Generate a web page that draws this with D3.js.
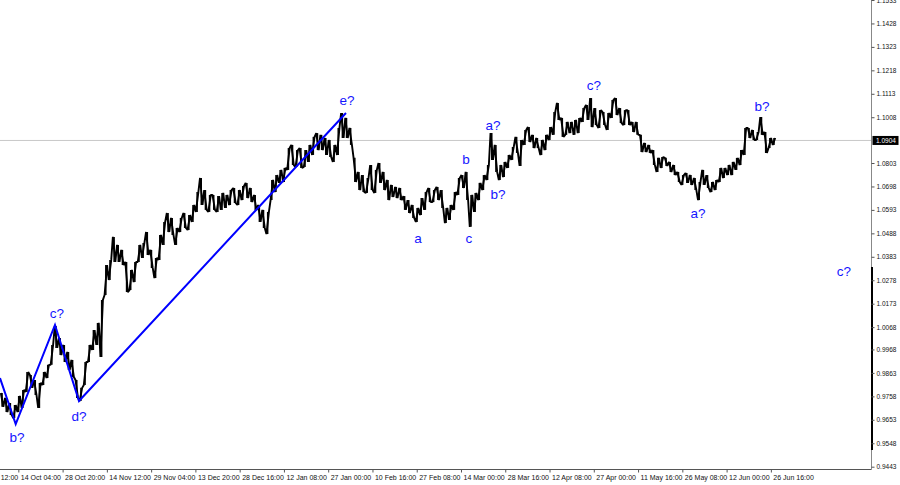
<!DOCTYPE html>
<html><head><meta charset="utf-8">
<script src="https://cdn.jsdelivr.net/npm/d3@7"></script>
<style>html,body{margin:0;padding:0;background:#fff;overflow:hidden}</style>
</head><body><svg id="c" width="900" height="485"></svg>
<script>
// daily high / low of EUR/USD H4 chart (each point = 6 H4 bars)
const highs = [0.9773,0.9751,0.9728,0.9719,0.9760,0.9787,0.9867,0.9854,0.9831,0.9818,
0.9867,0.9899,0.9988,1.0073,1.0019,0.9988,0.9957,0.9921,0.9831,0.9796,
0.9912,0.9988,1.0055,1.0087,1.0190,1.0346,1.0369,1.0472,1.0436,1.0414,
1.0360,1.0324,1.0360,1.0436,1.0445,1.0494,1.0414,1.0378,1.0481,1.0539,
1.0579,1.0557,1.0512,1.0557,1.0579,1.0570,1.0615,1.0673,1.0736,1.0682,
1.0660,1.0660,1.0655,1.0669,1.0660,1.0682,1.0691,1.0682,1.0700,1.0714,
1.0691,1.0660,1.0615,1.0593,1.0584,1.0727,1.0749,1.0772,1.0781,1.0870,
1.0884,1.0861,1.0870,1.0861,1.0884,1.0920,1.0937,1.0929,1.0915,1.0906,
1.0884,1.0960,1.1027,1.1005,1.0960,1.0826,1.0763,1.0749,1.0736,1.0794,
1.0772,1.0803,1.0763,1.0727,1.0705,1.0696,1.0691,1.0655,1.0637,1.0615,
1.0602,1.0646,1.0673,1.0691,1.0682,1.0696,1.0682,1.0602,1.0615,1.0673,
1.0736,1.0749,1.0763,1.0660,1.0669,1.0714,1.0749,1.0794,1.0937,1.0884,
1.0794,1.0808,1.0839,1.0875,1.0920,1.0906,1.0951,1.0964,1.0929,1.0915,
1.0906,1.0929,1.0964,1.1031,1.1072,1.1005,1.0987,1.0987,1.0996,1.1005,
1.1049,1.1063,1.1094,1.1049,1.1040,1.1031,1.1027,1.1085,1.1094,1.1049,
1.1040,1.1040,1.0987,1.0987,1.0929,1.0893,1.0884,1.0861,1.0826,1.0830,
1.0826,1.0808,1.0794,1.0763,1.0749,1.0758,1.0749,1.0736,1.0718,1.0772,
1.0749,1.0718,1.0727,1.0781,1.0781,1.0794,1.0808,1.0826,1.0861,1.0960,
1.0960,1.0951,1.0942,1.1009,1.0942,1.0915,1.0915];
const lows = [0.9711,0.9688,0.9675,0.9661,0.9688,0.9706,0.9778,0.9796,0.9764,0.9706,
0.9809,0.9840,0.9899,0.9975,0.9943,0.9912,0.9876,0.9845,0.9751,0.9737,
0.9809,0.9912,0.9966,0.9988,0.9934,1.0212,1.0279,1.0360,1.0360,1.0346,
1.0225,1.0234,1.0270,1.0360,1.0378,1.0391,1.0333,1.0288,1.0369,1.0436,
1.0494,1.0481,1.0436,1.0494,1.0512,1.0503,1.0539,1.0584,1.0615,1.0593,
1.0584,1.0593,1.0584,1.0593,1.0602,1.0615,1.0624,1.0615,1.0637,1.0646,
1.0628,1.0593,1.0539,1.0512,1.0485,1.0637,1.0673,1.0714,1.0718,1.0772,
1.0794,1.0785,1.0781,1.0785,1.0808,1.0839,1.0861,1.0861,1.0839,1.0830,
1.0808,1.0839,1.0915,1.0915,1.0884,1.0718,1.0682,1.0673,1.0669,1.0682,
1.0669,1.0714,1.0682,1.0637,1.0651,1.0646,1.0637,1.0593,1.0579,1.0557,
1.0539,1.0570,1.0593,1.0628,1.0628,1.0637,1.0602,1.0534,1.0548,1.0593,
1.0660,1.0691,1.0637,1.0517,1.0584,1.0637,1.0682,1.0727,1.0817,1.0763,
1.0727,1.0740,1.0781,1.0817,1.0848,1.0790,1.0884,1.0897,1.0870,1.0870,
1.0839,1.0861,1.0906,1.0929,1.0996,1.0920,1.0929,1.0937,1.0929,1.0937,
1.0987,1.0996,1.0964,1.0973,1.0960,1.0973,1.0951,1.1005,1.1018,1.0982,
1.0973,1.0973,1.0942,1.0929,1.0852,1.0852,1.0848,1.0794,1.0763,1.0781,
1.0790,1.0763,1.0749,1.0718,1.0705,1.0714,1.0705,1.0682,1.0637,1.0705,
1.0691,1.0673,1.0682,1.0718,1.0736,1.0749,1.0749,1.0772,1.0794,1.0839,
1.0915,1.0906,1.0906,1.0929,1.0848,1.0870,1.0884];
const barsPerPoint = 6;
const currentPrice = 1.0904;
const currentPriceLabel = "1.0904";

const priceTicks = [0.9443,0.9548,0.9653,0.9758,0.9863,0.9968,1.0068,1.0173,1.0278,1.0383,
1.0488,1.0593,1.0698,1.0803,1.1008,1.1113,1.1218,1.1323,1.1428,1.1533];
const dateLabels = ["29 Sep 12:00","14 Oct 04:00","28 Oct 20:00","14 Nov 12:00","29 Nov 04:00",
"13 Dec 20:00","28 Dec 16:00","12 Jan 08:00","27 Jan 00:00","10 Feb 16:00","27 Feb 08:00",
"14 Mar 00:00","28 Mar 16:00","12 Apr 08:00","27 Apr 00:00","11 May 16:00","26 May 08:00",
"12 Jun 00:00","26 Jun 16:00"];
const firstDateBar = -37.5, barsPerDateLabel = 64;

// wave count (blue)
const waveBars = [0, 22.7, 79.5, 114.2, 500.2];
const wavePrices = [0.9840, 0.9634, 1.0078, 0.9737, 1.1027];
const labelTexts = ["b?","c?","d?","e?","a","b","c","a?","b?","c?","a?","b?","c?"];
const labelBars = [24.6, 82.4, 114.2, 501.7, 604.3, 673.7, 678.0, 712.7, 720.0, 858.8, 1009.1, 1101.6, 1220.2];
const labelPrices = [0.9576,1.0131,0.9670,1.1081,1.0467,1.0817,1.0467,1.0973,1.0660,1.1152,1.0579,1.1058,1.0315];

const W = 900, H = 485, plotRight = 871.5, plotBottom = 469.5;
const x = d3.scaleLinear().domain([0, 1260]).range([0, plotRight]);
const y = d3.scaleLinear().domain([0.9443, 1.1533]).range([466.7, 0]);

const svg = d3.select("#c");
svg.append("rect").attr("width", W).attr("height", H).attr("fill", "#fff");
svg.append("defs").append("clipPath").attr("id", "clip")
  .append("rect").attr("x", 0).attr("y", 0).attr("width", plotRight).attr("height", plotBottom);

const plot = svg.append("g").attr("clip-path", "url(#clip)");

// current price line
plot.append("line").attr("x1", 0).attr("x2", plotRight)
  .attr("y1", y(currentPrice)).attr("y2", y(currentPrice))
  .attr("stroke", "#c8c8c8").attr("stroke-width", 1);

const pts = highs.map((h, i) => ({ b: i * barsPerPoint + 3, h, l: lows[i] }));
// jagged price path: each day drawn low->high or high->low following the direction
const half = barsPerPoint * 0.3;
const zig = [];
pts.forEach((d, i) => {
  const mid = (d.h + d.l) / 2;
  const nxt = i < pts.length - 1 ? (pts[i + 1].h + pts[i + 1].l) / 2 : mid;
  if (nxt >= mid) { zig.push([d.b - half, d.l]); zig.push([d.b + half, d.h]); }
  else { zig.push([d.b - half, d.h]); zig.push([d.b + half, d.l]); }
});
plot.append("path").datum(zig)
  .attr("d", d3.line().x(d => x(d[0])).y(d => y(d[1])))
  .attr("fill", "none").attr("stroke", "#000").attr("stroke-width", 1.9).attr("stroke-linejoin", "bevel");
plot.selectAll("line.bar").data(pts).enter().append("line").attr("class", "bar")
  .attr("x1", d => x(d.b)).attr("x2", d => x(d.b))
  .attr("y1", d => y(d.h)).attr("y2", d => y(d.l))
  .attr("stroke", "#000").attr("stroke-width", 1.5);

// wave lines
const waveLine = d3.line().x(d => x(d[0])).y(d => y(d[1]));
plot.append("path").datum(waveBars.map((b, i) => [b, wavePrices[i]]))
  .attr("d", waveLine).attr("fill", "none").attr("stroke", "#0000ff").attr("stroke-width", 2);

// labels
svg.selectAll("text.wl").data(labelTexts).enter().append("text").attr("class", "wl")
  .attr("x", (d, i) => x(labelBars[i])).attr("y", (d, i) => y(labelPrices[i]))
  .attr("text-anchor", "middle").attr("dominant-baseline", "central")
  .attr("font-family", "Arial, 'Liberation Sans', sans-serif").attr("font-size", 13.5)
  .attr("fill", "#1515ff").text(d => d);

// axes frame
svg.append("line").attr("x1", 0).attr("x2", plotRight).attr("y1", plotBottom).attr("y2", plotBottom)
  .attr("stroke", "#555").attr("stroke-width", 1);
svg.append("line").attr("x1", plotRight).attr("x2", plotRight).attr("y1", 0).attr("y2", plotBottom)
  .attr("stroke", "#888").attr("stroke-width", 1);
svg.append("line").attr("x1", plotRight + 0.5).attr("x2", plotRight + 0.5).attr("y1", 267).attr("y2", 450)
  .attr("stroke", "#000").attr("stroke-width", 2);

// right price axis
const yAxis = d3.axisRight(y).tickValues(priceTicks).tickSize(3).tickPadding(2)
  .tickFormat(d3.format(".4f"));
const ya = svg.append("g").attr("transform", `translate(${plotRight},0)`).call(yAxis);
ya.select(".domain").remove();
ya.selectAll("line").attr("stroke", "#555");
ya.selectAll("text").attr("font-family", "Arial, 'Liberation Sans', sans-serif")
  .attr("font-size", 6.5).attr("fill", "#111");

// current price tag
const cp = svg.append("g");
cp.append("rect").attr("x", plotRight + 1).attr("y", y(currentPrice) - 4.5).attr("width", 26).attr("height", 9).attr("fill", "#000");
cp.append("text").attr("x", plotRight + 4.5).attr("y", y(currentPrice)).attr("dominant-baseline", "central")
  .attr("font-family", "Arial, 'Liberation Sans', sans-serif").attr("font-size", 6.5).attr("fill", "#fff")
  .text(currentPriceLabel);

// bottom date axis
const dateBars = dateLabels.map((d, i) => firstDateBar + i * barsPerDateLabel);
const xAxis = d3.axisBottom(x).tickValues(dateBars).tickSize(3).tickPadding(3)
  .tickFormat((d, i) => dateLabels[i]);
const xa = svg.append("g").attr("transform", `translate(0,${plotBottom})`).call(xAxis);
xa.select(".domain").remove();
xa.selectAll("line").attr("stroke", "#555");
xa.selectAll("text").attr("text-anchor", "start").attr("dx", 2)
  .attr("font-family", "'Liberation Sans Narrow', 'Arial Narrow', sans-serif")
  .attr("font-size", 7).attr("fill", "#111");
</script></body></html>
